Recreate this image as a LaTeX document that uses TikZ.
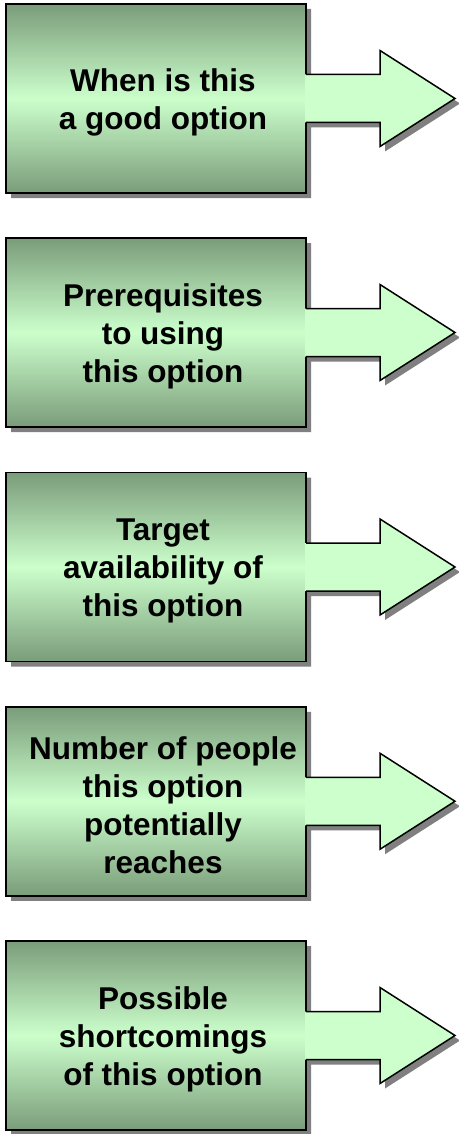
\documentclass[tikz,border=0pt]{standalone}
\usepackage{fontspec}
\setmainfont{Liberation Sans}
\definecolor{boxdark}{RGB}{122,156,122}
\definecolor{boxlight}{RGB}{204,255,204}
\definecolor{arrowgreen}{RGB}{204,255,204}
\definecolor{shadowgray}{RGB}{128,128,128}
\tikzset{
  optbox/.style={draw=black, line width=1.5pt, minimum width=300pt, minimum height=189pt,
    inner sep=0pt, outer sep=0pt, top color=boxdark, bottom color=boxdark, middle color=boxlight},
  opttext/.style={align=center, inner sep=0pt, font=\fontsize{31.5}{38}\selectfont\bfseries},
  optshadow/.style={fill=shadowgray},
  optarrowfill/.style={fill=arrowgreen},
  optoutline/.style={draw=black, line width=1.5pt, line join=miter}
}
\newcommand\optitem[3]{%
  \fill[optshadow] (11,{#2+5}) -- (311,{#2+5}) -- (311,{#2+75.5}) -- (385,{#2+75.5})
    -- (385,{#2+51.5}) -- (460,{#2+99.5}) -- (385,{#2+147.5}) -- (385,{#2+123.5})
    -- (311,{#2+123.5}) -- (311,{#2+194}) -- (11,{#2+194}) -- cycle;
  \node[optbox] (#1) at (156,{#2+94.5}) {};
  \fill[optarrowfill] (#1.east) ++(-1,-24) -- ++(75,0) -- ++(0,-24) -- ++(75,48)
    -- ++(-75,48) -- ++(0,-24) -- ++(-75,0) -- cycle;
  \draw[optoutline] (#1.east) ++(0,-24) -- ++(74,0) -- ++(0,-24) -- ++(75,48)
    -- ++(-75,48) -- ++(0,-24) -- ++(-74,0);
  \node[opttext] (#1text) at ([shift={(7,4)}]#1.center) {#3};
}
\begin{document}
\begin{tikzpicture}[x=1pt,y=-1pt]
\useasboundingbox (0,0) rectangle (458,1134);
\optitem{when}{4}{When is this\\a good option}
\optitem{prereq}{238}{Prerequisites\\to using\\this option}
\optitem{target}{472.5}{Target\\availability of\\this option}
\optitem{number}{706.75}{Number of people\\this option\\potentially\\reaches}
\optitem{short}{941}{Possible\\shortcomings\\of this option}
\end{tikzpicture}
\end{document}
